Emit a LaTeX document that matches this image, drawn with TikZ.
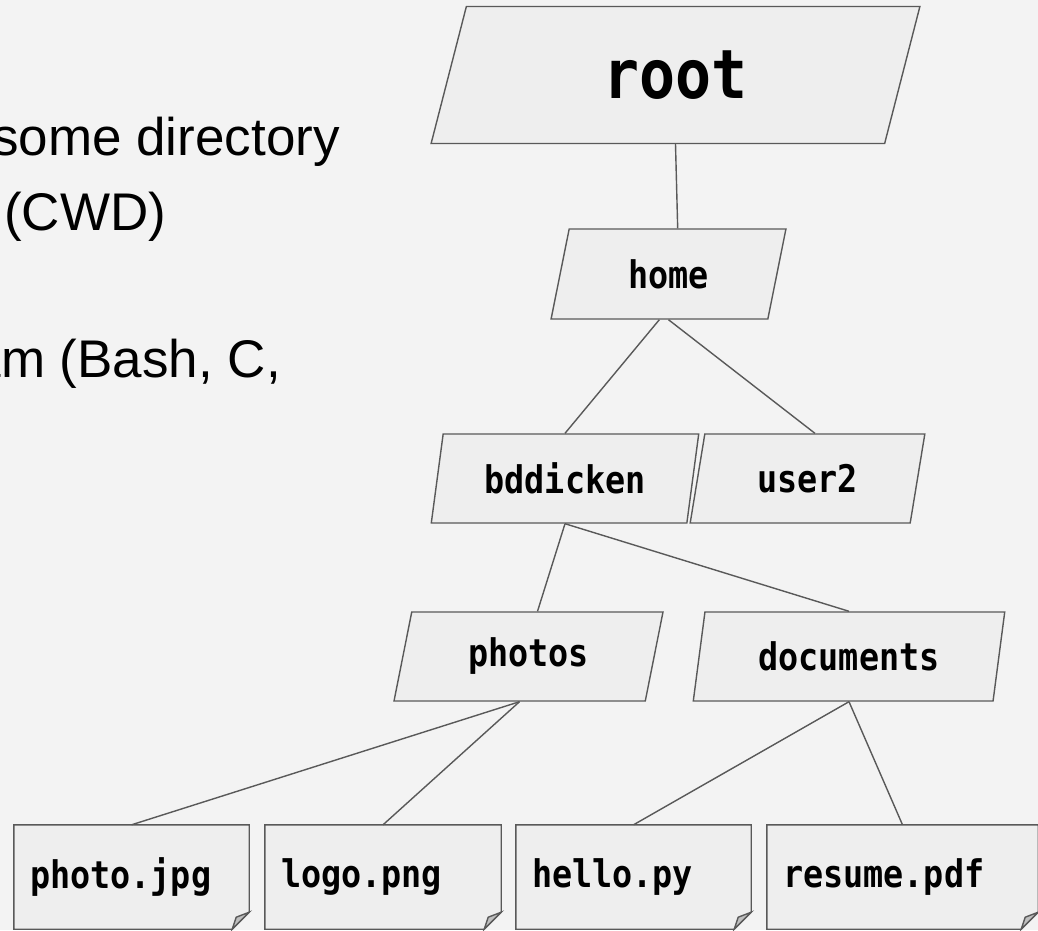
\documentclass[tikz,border=0pt]{standalone}
\usepackage{fontspec}
\setmainfont{Liberation Sans}
\newfontfamily\codefont{DejaVu Sans Mono}[FakeStretch=0.88]
\usetikzlibrary{shapes,calc,positioning}
\definecolor{slidebg}{HTML}{F3F3F3}
\definecolor{boxfill}{HTML}{EEEEEE}
\definecolor{boxline}{HTML}{595959}
\definecolor{flapfill}{HTML}{BFBFBF}
\tikzset{
	folder/.style={draw=boxline, fill=boxfill, line width=1.4pt,
		trapezium, trapezium left angle=76, trapezium right angle=104,
		trapezium stretches=true, inner sep=0pt,
		font=\codefont\bfseries\fontsize{38}{40}\selectfont},
	file/.style={fill=boxfill, inner xsep=16pt, inner ysep=0pt,
		minimum height=104pt, text width=#1, align=left,
		font=\codefont\bfseries\fontsize{38}{40}\selectfont},
	link/.style={draw=boxline, line width=1.4pt},
	slide text/.style={inner sep=0pt, font=\fontsize{53}{60}\selectfont},
}

\begin{document}
\begin{tikzpicture}[x=1pt, y=-1pt]
\fill[slidebg, use as bounding box] (0,0) rectangle (1038,930);

% the text on the left
\node[slide text, anchor=base east] (cwdline) at (340,155) {some directory};
\node[slide text, anchor=base west] (cwdabbr) at (4,230) {(CWD)};
\node[slide text, anchor=base east] (langline) at (281,377) {am (Bash, C,};

% the folders
\node[folder, minimum width=489pt, minimum height=137pt,
	font=\codefont\bfseries\fontsize{68}{70}\selectfont] at (675.5,75) (root) {root};
\node[folder, minimum width=235pt, minimum height=90pt] at (668.5,274) (home) {home};
\node[folder, minimum width=268pt, minimum height=89pt] at (565,478.5) (bddicken) {bddicken};
\node[folder, minimum width=235pt, minimum height=89pt] at (807.5,478.5) (user2) {user2};
\node[folder, minimum width=269pt, minimum height=89pt] at (528.5,656.5) (photos) {photos};
\node[folder, minimum width=312pt, minimum height=89pt] at (849,656.5) (documents) {documents};

% the files
\node[file=203pt] at (131.5,877) (photojpg) {photo.jpg};
\node[file=204pt] at (383,877) (logopng) {logo.png};
\node[file=203pt] at (633.5,877) (hellopy) {hello.py};
\node[file=239pt] at (902.5,877) (resumepdf) {resume.pdf};
\foreach \f in {photojpg,logopng,hellopy,resumepdf}{
	\fill[slidebg] ([yshift=17pt]\f.south east) -- (\f.south east) -- ([xshift=-17pt]\f.south east) -- cycle;
	\draw[link] (\f.south west) -- (\f.north west) -- (\f.north east)
		-- ([yshift=17pt]\f.south east) -- ([xshift=-17pt]\f.south east) -- cycle;
	\filldraw[link, fill=flapfill] ([yshift=17pt]\f.south east)
		-- ([xshift=-13pt,yshift=12pt]\f.south east) -- ([xshift=-17pt]\f.south east) -- cycle;
}

% the lines
\draw[link] (root.center |- root.bottom side) -- (home.top side);
\draw[link] (home.bottom side) -- (bddicken.center |- bddicken.top side);
\draw[link] (home.center |- home.bottom side) -- (user2.top side);
\draw[link] (bddicken.center |- bddicken.bottom side) -- (photos.top side);
\draw[link] (bddicken.center |- bddicken.bottom side) -- (documents.center |- documents.top side);
\draw[link] (photos.bottom side) -- (photojpg.north);
\draw[link] (photos.bottom side) -- (logopng.north);
\draw[link] (documents.center |- documents.bottom side) -- (hellopy.north);
\draw[link] (documents.center |- documents.bottom side) -- (resumepdf.north);
\end{tikzpicture}
\end{document}
